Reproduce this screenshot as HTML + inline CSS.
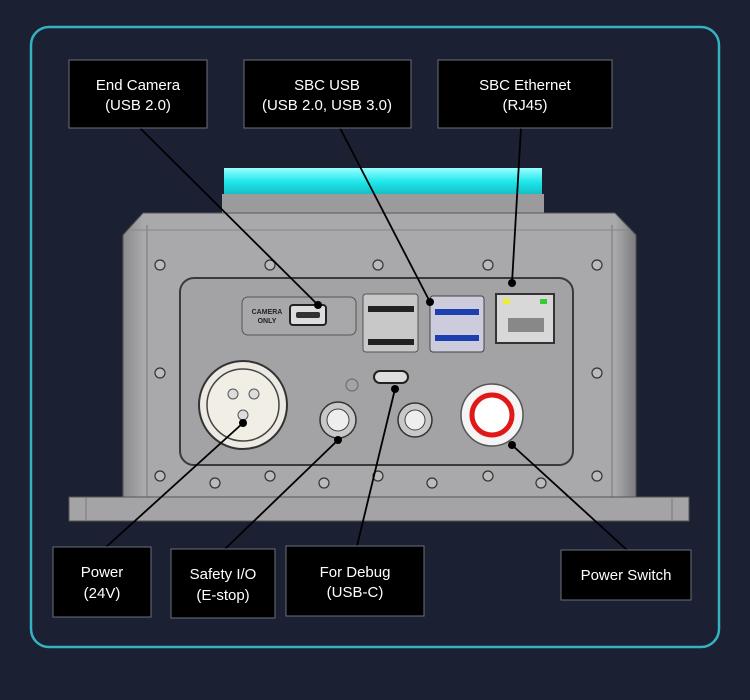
<!DOCTYPE html>
<html><head><style>
html,body{margin:0;padding:0;background:#1b2033;}
svg{display:block}
text{font-family:"Liberation Sans",Arial,sans-serif;fill:#fff;font-size:15px;text-anchor:middle}
</style></head><body>
<svg width="750" height="700" viewBox="0 0 750 700" xmlns="http://www.w3.org/2000/svg">
<defs>
<linearGradient id="body" x1="0" x2="1" y1="0" y2="0">
<stop offset="0" stop-color="#8a8a8c"/><stop offset="0.04" stop-color="#a9a9ab"/><stop offset="0.96" stop-color="#a9a9ab"/><stop offset="1" stop-color="#7c7c7e"/>
</linearGradient>
<linearGradient id="cyan" x1="0" x2="0" y1="0" y2="1">
<stop offset="0" stop-color="#9ff"/><stop offset="0.5" stop-color="#1ee6ea"/><stop offset="1" stop-color="#15b8c0"/>
</linearGradient>
</defs>
<rect x="0" y="0" width="750" height="700" fill="#1b2033"/>
<rect x="31" y="27" width="688" height="620" rx="18" fill="none" stroke="#35b2c2" stroke-width="2.5"/>

<!-- device -->
<rect x="224" y="168" width="318" height="28" fill="url(#cyan)"/>
<rect x="222" y="194" width="322" height="22" fill="#9b9b9d"/>
<path d="M123 235 L143 213 L615 213 L636 235 L636 498 L123 498 Z" fill="url(#body)" stroke="#555" stroke-width="1"/>
<line x1="147" y1="225" x2="147" y2="498" stroke="#777"/>
<line x1="612" y1="225" x2="612" y2="498" stroke="#777"/>
<line x1="130" y1="230" x2="630" y2="230" stroke="#888"/>
<rect x="69" y="497" width="620" height="24" fill="#a4a4a6" stroke="#555"/>
<line x1="86" y1="497" x2="86" y2="521" stroke="#777"/><line x1="672" y1="497" x2="672" y2="521" stroke="#777"/>
<rect x="180" y="278" width="393" height="187" rx="14" fill="#a3a3a5" stroke="#3a3a3a" stroke-width="2"/>
<!-- screws -->
<g fill="#bbb" stroke="#333" stroke-width="1.2">
<circle cx="160" cy="265" r="5"/><circle cx="270" cy="265" r="5"/><circle cx="378" cy="265" r="5"/><circle cx="488" cy="265" r="5"/><circle cx="597" cy="265" r="5"/>
<circle cx="160" cy="373" r="5"/><circle cx="597" cy="373" r="5"/>
<circle cx="160" cy="476" r="5"/><circle cx="270" cy="476" r="5"/><circle cx="378" cy="476" r="5"/><circle cx="488" cy="476" r="5"/><circle cx="597" cy="476" r="5"/>
<circle cx="215" cy="483" r="5"/><circle cx="324" cy="483" r="5"/><circle cx="432" cy="483" r="5"/><circle cx="541" cy="483" r="5"/>
</g>
<!-- camera port -->
<rect x="242" y="297" width="114" height="38" rx="6" fill="#a8a8aa" stroke="#555"/>
<text x="267" y="314" style="font-size:7px;fill:#222;font-weight:bold">CAMERA</text>
<text x="267" y="323" style="font-size:7px;fill:#222;font-weight:bold">ONLY</text>
<rect x="290" y="305" width="36" height="20" rx="3" fill="#ddd" stroke="#222" stroke-width="2"/>
<rect x="296" y="312" width="24" height="6" rx="2" fill="#333"/>
<!-- usb2 -->
<rect x="363" y="294" width="55" height="58" rx="3" fill="#c8c8c8" stroke="#555"/>
<rect x="368" y="306" width="46" height="6" fill="#222"/><rect x="368" y="339" width="46" height="6" fill="#222"/>
<!-- usb3 -->
<rect x="430" y="296" width="54" height="56" rx="3" fill="#ccd" stroke="#444"/>
<rect x="435" y="309" width="44" height="6" fill="#1e3fb0"/><rect x="435" y="335" width="44" height="6" fill="#1e3fb0"/>
<!-- rj45 -->
<rect x="496" y="294" width="58" height="49" fill="#d8d8d8" stroke="#333" stroke-width="2"/>
<rect x="503" y="299" width="7" height="5" fill="#ee3"/><rect x="540" y="299" width="7" height="5" fill="#3c3"/>
<rect x="508" y="318" width="36" height="14" fill="#888"/>
<!-- power connector -->
<circle cx="243" cy="405" r="44" fill="#eceae2" stroke="#333" stroke-width="2"/>
<circle cx="243" cy="405" r="36" fill="#f1efe5" stroke="#444" stroke-width="1.5"/>
<circle cx="233" cy="394" r="5" fill="#ddd" stroke="#555"/><circle cx="254" cy="394" r="5" fill="#ddd" stroke="#555"/><circle cx="243" cy="415" r="5" fill="#ddd" stroke="#555"/>
<circle cx="352" cy="385" r="6" fill="none" stroke="#666"/>
<!-- safety -->
<circle cx="338" cy="420" r="18" fill="#c8c8c8" stroke="#333" stroke-width="1.5"/>
<circle cx="338" cy="420" r="11" fill="#eee" stroke="#444"/>
<!-- usb-c -->
<rect x="374" y="371" width="34" height="12" rx="6" fill="#ddd" stroke="#222" stroke-width="2"/>
<!-- 4pin -->
<circle cx="415" cy="420" r="17" fill="#c8c8c8" stroke="#333" stroke-width="1.5"/>
<circle cx="415" cy="420" r="10" fill="#eee" stroke="#444"/>
<!-- switch -->
<circle cx="492" cy="415" r="31" fill="#f4f4f4" stroke="#555" stroke-width="1.5"/>
<circle cx="492" cy="415" r="20" fill="#fff" stroke="#e01818" stroke-width="5"/>

<!-- leader lines -->
<g stroke="#000" stroke-width="1.8" fill="none">
<line x1="140" y1="128" x2="318" y2="305"/>
<line x1="340" y1="128" x2="430" y2="302"/>
<line x1="521" y1="128" x2="512" y2="283"/>
<line x1="243" y1="423" x2="105" y2="548"/>
<line x1="338" y1="440" x2="225" y2="549"/>
<line x1="395" y1="389" x2="357" y2="546"/>
<line x1="512" y1="445" x2="627" y2="550"/>
</g>
<g fill="#000">
<circle cx="318" cy="305" r="4"/><circle cx="430" cy="302" r="4"/><circle cx="512" cy="283" r="4"/>
<circle cx="243" cy="423" r="4"/><circle cx="338" cy="440" r="4"/><circle cx="395" cy="389" r="4"/><circle cx="512" cy="445" r="4"/>
</g>

<!-- labels -->
<g fill="#000" stroke="#6a6f7c" stroke-width="1">
<rect x="69" y="60" width="138" height="68"/>
<rect x="244" y="60" width="167" height="68"/>
<rect x="438" y="60" width="174" height="68"/>
<rect x="53" y="547" width="98" height="70"/>
<rect x="171" y="549" width="104" height="69"/>
<rect x="286" y="546" width="138" height="70"/>
<rect x="561" y="550" width="130" height="50"/>
</g>
<text x="138" y="90">End Camera</text><text x="138" y="110">(USB 2.0)</text>
<text x="327" y="90">SBC USB</text><text x="327" y="110">(USB 2.0, USB 3.0)</text>
<text x="525" y="90">SBC Ethernet</text><text x="525" y="110">(RJ45)</text>
<text x="102" y="577">Power</text><text x="102" y="598">(24V)</text>
<text x="223" y="579">Safety I/O</text><text x="223" y="600">(E-stop)</text>
<text x="355" y="577">For Debug</text><text x="355" y="597">(USB-C)</text>
<text x="626" y="580">Power Switch</text>
</svg>
</body></html>
